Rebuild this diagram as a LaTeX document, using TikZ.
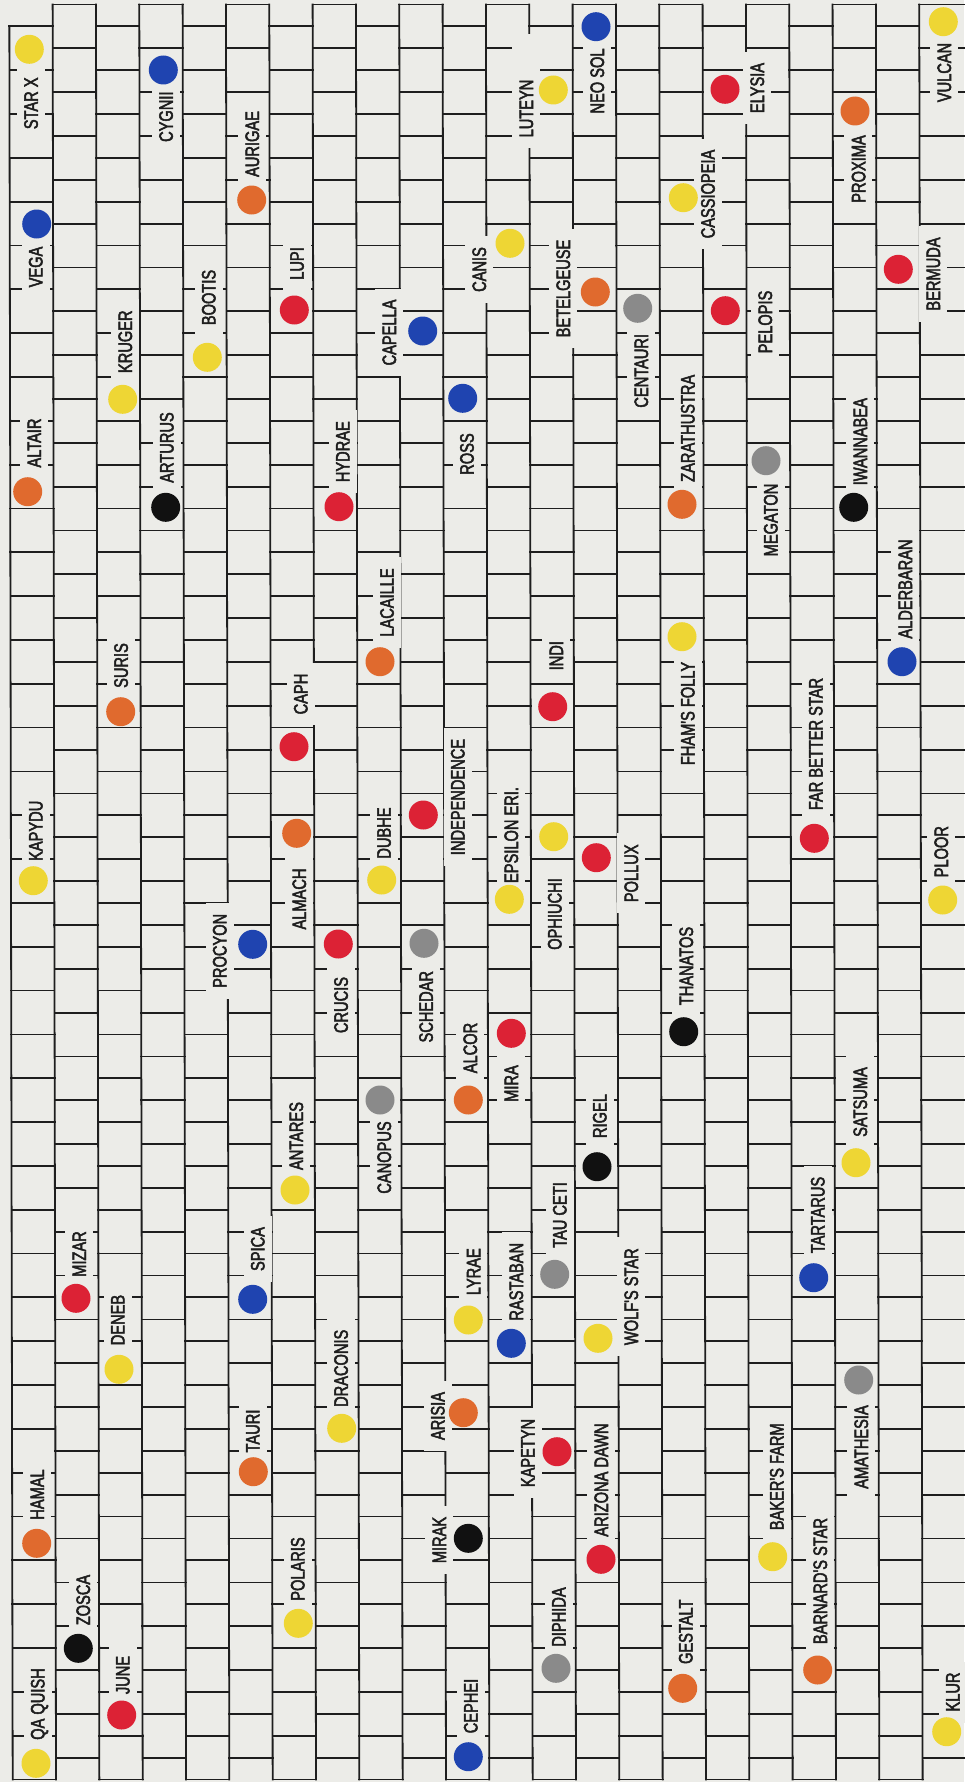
\documentclass[tikz,border=0pt]{standalone}
\usepackage{fontspec}
\newfontfamily\lblfont[FakeStretch=0.75,FakeBold=2.5]{Liberation Sans}
\definecolor{bg}{HTML}{ECECE8}
\definecolor{ink}{HTML}{1E1E1E}
\definecolor{cY}{HTML}{EED634}
\definecolor{cO}{HTML}{E06A2E}
\definecolor{cR}{HTML}{DC2235}
\definecolor{cB}{HTML}{1F44B0}
\definecolor{cG}{HTML}{8A8A8A}
\definecolor{cK}{HTML}{111111}
\tikzset{
  gridline/.style={line width=1.8pt, draw=ink, line cap=rect},
  lbl/.style={rotate=90, fill=bg, inner xsep=11pt, inner ysep=7pt, text height=14pt, text depth=0pt,
    text=ink, font=\lblfont\fontsize{19.5pt}{20pt}\selectfont},
  dot/.style={circle, minimum size=29pt, inner sep=0pt, draw=none},
  gapbox/.style={fill=bg, inner sep=0pt, draw=none}
}
\newcommand\st[7]{\node[lbl] (#1) at (#2,#3) {#4};\node[dot,fill=#7] (#1d) at (#5,#6) {};}
\begin{document}
\begin{tikzpicture}[x=1pt,y=-1pt]
\fill[bg] (0,0) rectangle (964,1782);
\useasboundingbox (0,0) rectangle (964,1782);
\begin{scope}[xslant=-0.0019]
  \foreach \j in {0,...,21}{
    \pgfmathsetmacro\xa{9.3+43.33*\j}
    \pgfmathsetmacro\xb{ifthenelse(\j==21,968,\xa+43.33)}
    \pgfmathsetmacro\yz{ifthenelse(isodd(\j),4.5,26.3)}
    \foreach \m in {0,...,40}{
      \draw[gridline] (\xa,\yz+43.83*\m) -- (\xb,\yz+43.83*\m);
    }
  }
  \foreach \k in {0,...,21}{
    \pgfmathsetmacro\xa{9.3+43.33*\k}
    \pgfmathsetmacro\yt{ifthenelse(\k==0,26.3,4.5)}
    \draw[gridline] (\xa,\yt) -- (\xa,1779.5);
  }
\end{scope}
\node[gapbox, minimum width=28pt, minimum height=46pt] (gLUTEYN) at (526,57) {};
% name, label x, label y, text, dot x, dot y, colour
\st{STARX}{30.8}{103.3}{STAR X}{29.3}{49.3}{cY}
\st{VEGA}{35.5}{267}{VEGA}{36.7}{224}{cB}
\st{ALTAIR}{34}{443}{ALTAIR}{27.7}{491.7}{cO}
\st{KAPYDU}{35.5}{830.8}{KAPYDU}{33.3}{880.7}{cY}
\st{HAMAL}{37}{1494.5}{HAMAL}{36.7}{1543.3}{cO}
\st{QAQUISH}{37.5}{1704}{QA QUISH}{36}{1763.3}{cY}
\st{CYGNII}{165.8}{116.7}{CYGNII}{163.3}{70}{cB}
\st{KRUGER}{125}{341.7}{KRUGER}{122.7}{399.3}{cY}
\st{ARTURUS}{166.5}{447.5}{ARTURUS}{165.7}{507.3}{cK}
\st{SURIS}{120.8}{665.5}{SURIS}{120.7}{711.7}{cO}
\st{MIZAR}{79}{1254}{MIZAR}{76}{1298.3}{cR}
\st{DENEB}{117.5}{1320}{DENEB}{119}{1369.3}{cY}
\st{ZOSCA}{83}{1600}{ZOSCA}{78.3}{1648.3}{cK}
\st{JUNE}{122.5}{1675}{JUNE}{121.7}{1715}{cR}
\st{BOOTIS}{208.5}{297.5}{BOOTIS}{207.3}{357.3}{cY}
\st{AURIGAE}{252}{144}{AURIGAE}{251.7}{200}{cO}
\st{LUPI}{296.7}{263.5}{LUPI}{294.3}{310}{cR}
\st{HYDRAE}{342.5}{451.7}{HYDRAE}{339}{506.7}{cR}
\st{CAPH}{300.5}{694}{CAPH}{294}{746.7}{cR}
\st{ALMACH}{299}{899}{ALMACH}{296.7}{833.3}{cO}
\st{PROCYON}{219.5}{950.8}{PROCYON}{252.7}{944.3}{cB}
\st{CRUCIS}{340.8}{1005}{CRUCIS}{338.3}{944}{cR}
\st{ANTARES}{296}{1136}{ANTARES}{295}{1190}{cY}
\st{SPICA}{257.5}{1249}{SPICA}{252.7}{1299.3}{cB}
\st{TAURI}{252.5}{1431}{TAURI}{253.3}{1471.7}{cO}
\st{DRACONIS}{340.8}{1368.3}{DRACONIS}{341.7}{1428.3}{cY}
\st{POLARIS}{297.5}{1569}{POLARIS}{298.3}{1623.3}{cY}
\st{CAPELLA}{389}{332.5}{CAPELLA}{422.7}{331}{cB}
\st{ROSS}{466.7}{454}{ROSS}{462.7}{398.3}{cB}
\st{CANIS}{479}{269.5}{CANIS}{510}{243.3}{cY}
\st{LACAILLE}{386.7}{602.5}{LACAILLE}{380}{661.7}{cO}
\st{DUBHE}{383.7}{833}{DUBHE}{381.7}{880}{cY}
\st{INDEPENDENCE}{457.5}{797}{INDEPENDENCE}{423.3}{815}{cR}
\st{SCHEDAR}{425.8}{1006.7}{SCHEDAR}{424}{943.3}{cG}
\st{ALCOR}{470}{1048}{ALCOR}{468.3}{1100}{cO}
\st{CANOPUS}{384}{1157.5}{CANOPUS}{380}{1100}{cG}
\st{LYRAE}{473.3}{1271.7}{LYRAE}{468.3}{1320}{cY}
\st{ARISIA}{437.5}{1416}{ARISIA}{463.3}{1412.7}{cO}
\st{MIRAK}{439}{1540}{MIRAK}{468.3}{1538.3}{cK}
\st{CEPHEI}{470.5}{1706}{CEPHEI}{468.3}{1756.7}{cB}
\st{LUTEYN}{526}{108.5}{LUTEYN}{553.3}{90}{cY}
\st{NEOSOL}{597}{81}{NEO SOL}{596}{26.7}{cB}
\st{BETELGEUSE}{563}{288.5}{BETELGEUSE}{595.3}{292}{cO}
\st{CENTAURI}{641}{370.8}{CENTAURI}{637.7}{308.3}{cG}
\st{INDI}{556}{655.7}{INDI}{552.7}{706.7}{cR}
\st{EPSILON}{511}{835}{EPSILON ERI.}{509.3}{899.3}{cY}
\st{OPHIUCHI}{554.5}{914}{OPHIUCHI}{553.7}{836.7}{cY}
\st{POLLUX}{631}{873.3}{POLLUX}{596.3}{857.7}{cR}
\st{MIRA}{511}{1083.5}{MIRA}{511.3}{1033.3}{cR}
\st{RIGEL}{599.5}{1116}{RIGEL}{597}{1166.7}{cK}
\st{TAUCETI}{559.5}{1215}{TAU CETI}{554.7}{1274.3}{cG}
\st{RASTABAN}{516}{1281.7}{RASTABAN}{511.3}{1343.3}{cB}
\st{WOLFS}{631}{1296.7}{WOLF'S STAR}{598}{1338.3}{cY}
\st{KAPETYN}{527.5}{1453}{KAPETYN}{557}{1451.7}{cR}
\st{ARIZONA}{601}{1480}{ARIZONA DAWN}{601}{1559.3}{cR}
\st{DIPHIDA}{558.5}{1617}{DIPHIDA}{556}{1668.3}{cG}
\st{CASSIOPEIA}{707.7}{194}{CASSIOPEIA}{683.3}{197.7}{cY}
\st{ELYSIA}{757}{88}{ELYSIA}{725}{89.3}{cR}
\st{PELOPIS}{765}{322}{PELOPIS}{725.3}{310.7}{cR}
\st{ZARATHUSTRA}{687.5}{428.3}{ZARATHUSTRA}{682}{504.3}{cO}
\st{MEGATON}{770.5}{520}{MEGATON}{766}{460.7}{cG}
\st{FHAMS}{687.5}{713.5}{FHAM'S FOLLY}{682}{636.7}{cY}
\st{THANATOS}{686}{966}{THANATOS}{683.7}{1031.7}{cK}
\st{GESTALT}{685.5}{1631.7}{GESTALT}{682.7}{1688.3}{cO}
\st{BAKERS}{776.5}{1476.7}{BAKER'S FARM}{772.7}{1556.7}{cY}
\st{FARBETTER}{815.5}{744}{FAR BETTER STAR}{814.3}{838.3}{cR}
\st{TARTARUS}{817.5}{1215}{TARTARUS}{813.7}{1277.7}{cB}
\st{BARNARDS}{820}{1581}{BARNARD'S STAR}{817.7}{1670}{cO}
\st{PROXIMA}{858.3}{169}{PROXIMA}{855}{111}{cO}
\st{IWANNABEA}{860}{441.7}{IWANNABEA}{853.7}{507.3}{cK}
\st{SATSUMA}{860}{1102}{SATSUMA}{856}{1162.7}{cY}
\st{AMATHESIA}{861}{1447}{AMATHESIA}{858.7}{1380}{cG}
\st{VULCAN}{944}{72.5}{VULCAN}{943.3}{21.7}{cY}
\st{BERMUDA}{933}{274}{BERMUDA}{898.3}{269.3}{cR}
\st{ALDERBARAN}{905}{589}{ALDERBARAN}{902}{661.7}{cB}
\st{PLOOR}{941}{851.7}{PLOOR}{942.7}{900}{cY}
\st{KLUR}{952.5}{1692}{KLUR}{946.7}{1731.7}{cY}
\end{tikzpicture}
\end{document}
